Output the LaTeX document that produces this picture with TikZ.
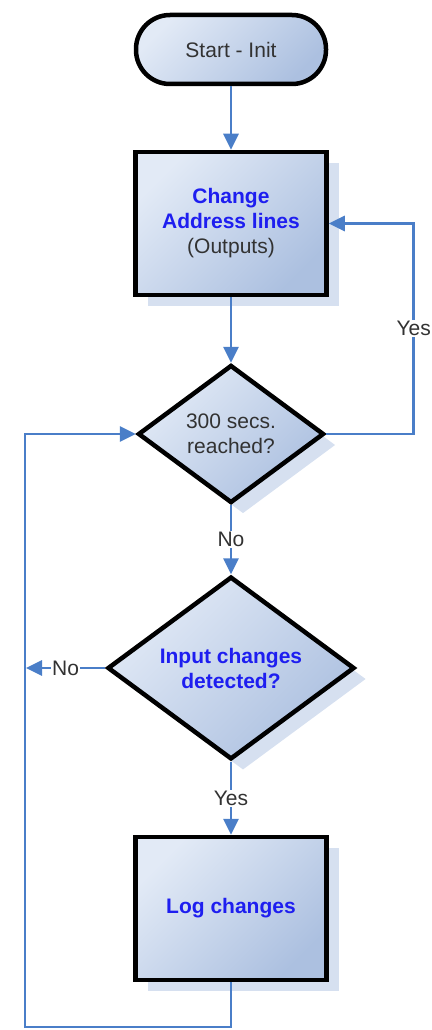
\documentclass[tikz,border=0pt]{standalone}
\usepackage{fontspec}
\setmainfont{Liberation Sans}
\usetikzlibrary{shapes.geometric,arrows.meta,shadows}
\definecolor{lineblue}{RGB}{74,126,200}
\definecolor{gtop}{RGB}{226,234,246}
\definecolor{gbot}{RGB}{172,192,224}
\definecolor{shadowblue}{RGB}{214,224,240}
\definecolor{textblue}{RGB}{30,30,240}
\definecolor{textgray}{RGB}{50,50,50}
\tikzset{
  txt/.style={font=\fontsize{21}{25}\selectfont, text=textgray},
  base/.style={txt, draw=black, line width=4.5pt, top color=gtop, bottom color=gbot,
    shading angle=45, align=center, inner sep=0pt},
  shad/.style={drop shadow={shadow xshift=12pt, shadow yshift=-11pt, fill=shadowblue, opacity=1}},
  startbox/.style={base, rectangle, rounded corners=34pt, minimum width=190pt, minimum height=69pt},
  procbox/.style={base, shad, rectangle, minimum width=191pt, minimum height=143pt},
  decbox/.style={base, shad, diamond},
  conn/.style={draw=lineblue, line width=2.8pt, -{Triangle[length=16pt,width=15pt]}},
  lbl/.style={txt, fill=white, inner sep=1pt},
  bl/.style={text=textblue, font=\fontsize{21}{25}\selectfont\bfseries}
}
\begin{document}
\begin{tikzpicture}[x=1pt,y=-1pt]
\useasboundingbox (0,0) rectangle (431,1030);
\node[startbox] (start) at (231,49.5) {Start - Init};
\node[procbox] (b1) at (231,223.5) {{\bfseries\color{textblue}Change}\\{\bfseries\color{textblue}Address lines}\\(Outputs)};
\node[decbox, minimum width=186pt, minimum height=138pt] (d1) at (231,434) {300 secs.\\reached?};
\node[decbox, bl, minimum width=247pt, minimum height=165pt] (d2) at (231,668) {Input changes\\detected?};
\node[procbox, bl] (b2) at (231,908.5) {Log changes};
\coordinate (yr) at ([xshift=85pt]b1.east);
\coordinate (bcorner) at (25,1027);
\coordinate (nl) at (26,668);
\draw[conn] (start.south) -- (b1.north);
\draw[conn] (b1.south) -- (d1.north);
\draw[conn] (d1.south) -- node[lbl]{No} (d2.north);
\draw[conn] (d2.south) -- node[lbl]{Yes} (b2.north);
\draw[conn] (d1.east) -| node[lbl,pos=0.75]{Yes} (yr) -- (b1.east);
\draw[conn] (b2.south) |- (bcorner) |- (d1.west);
\draw[conn] (d2.west) -- node[lbl]{No} (nl);
\end{tikzpicture}
\end{document}
